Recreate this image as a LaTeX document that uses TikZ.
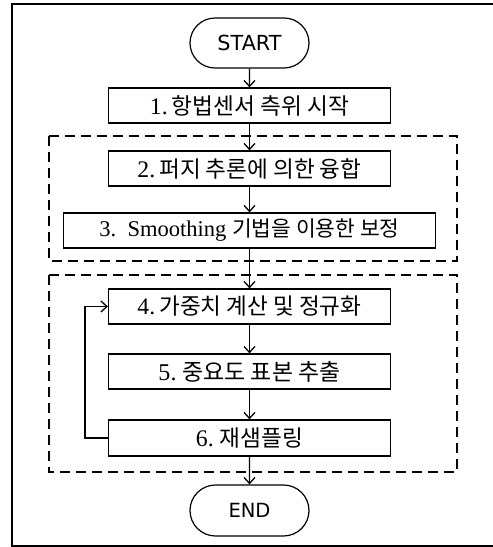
\documentclass[tikz,border=0pt]{standalone}
\usepackage{fontspec}
\usepackage{graphicx}
\setmainfont{Liberation Serif}
\newfontfamily\kr{Noto Sans CJK KR}
\newfontfamily\tsans{DejaVu Sans}
\usetikzlibrary{arrows.meta,shapes.misc}
\newcommand{\krt}[1]{{\kr\fontsize{20pt}{24pt}\selectfont #1}}
\newcommand{\fitw}[2]{\resizebox{#1}{!}{#2}}
\begin{document}
\begin{tikzpicture}[x=1pt,y=-1pt,
 box/.style={draw, line width=1.3pt, minimum height=35pt, inner sep=0pt, font=\fontsize{21pt}{25pt}\selectfont},
 term/.style={draw, line width=1.2pt, rounded rectangle, minimum width=119pt, minimum height=50pt, inner sep=0pt, font=\tsans\fontsize{20pt}{24pt}\selectfont},
 grp/.style={dash pattern=on 10pt off 6pt, line width=1.3pt},
 arr/.style={-{Straight Barb[length=6pt,width=11pt]}, line width=1.3pt}]
\useasboundingbox (0,0) rectangle (493,547);
\draw[line width=2pt] (12,4) rectangle (500,546);
\draw[grp] (49,136) rectangle (457,261);
\draw[grp] (49,275) rectangle (457,472);
\node[term] (s) at (249.5,43) {\fitw{64pt}{START}};
\node[box, minimum width=282pt] (b1) at (249.5,105.5) {\fitw{199pt}{1.\,\krt{항법센서 측위 시작}}};
\node[box, minimum width=282pt] (b2) at (249.5,168.5) {\fitw{224pt}{2.\,\krt{퍼지 추론에 의한 융합}}};
\node[box, minimum width=372pt] (b3) at (249.5,230.5) {\fitw{300pt}{3.\ \ Smoothing \krt{기법을 이용한 보정}}};
\node[box, minimum width=282pt] (b4) at (249.5,306.5) {\fitw{224pt}{4.\,\krt{가중치 계산 및 정규화}}};
\node[box, minimum width=282pt] (b5) at (249.5,371.5) {\fitw{182pt}{5.\ \krt{중요도 표본 추출}}};
\node[box, minimum width=282pt, minimum height=36pt] (b6) at (249.5,438) {\fitw{107pt}{6.\ \krt{재샘플링}}};
\node[term, minimum height=51pt] (e) at (249.5,510.5) {\fitw{42pt}{END}};
\draw[arr] (s) -- (b1);
\draw[arr] (b1) -- (b2);
\draw[arr] (b2) -- (b3);
\draw[arr] (b3) -- (b4);
\draw[arr] (b4) -- (b5);
\draw[arr] (b5) -- (b6);
\draw[arr] (b6) -- (e);
\draw[arr] (b6.west) -- ++(-23,0) |- (b4.west);
\end{tikzpicture}
\end{document}
